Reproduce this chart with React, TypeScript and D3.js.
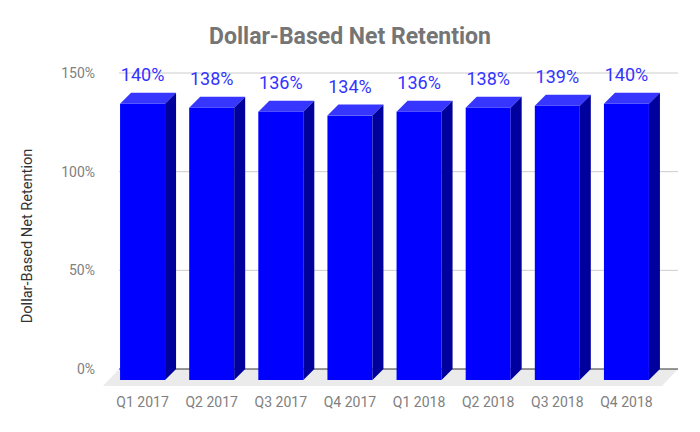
import * as d3 from 'd3'

const quarters = ['Q1 2017', 'Q2 2017', 'Q3 2017', 'Q4 2017', 'Q1 2018', 'Q2 2018', 'Q3 2018', 'Q4 2018']
const retention = [1.4, 1.38, 1.36, 1.34, 1.36, 1.38, 1.39, 1.4]
const yTicks = [0, 0.5, 1, 1.5]

const W = 700
const H = 432
const FONT = 'Roboto, "Noto Sans", sans-serif'

// back plane of the fake 3d box
const left = 119
const right = 678
const top = 73
const base = 369
const depth = 11
const floorDx = 16
const floorDy = 17

export default function App() {
  const x = d3.scaleBand<string>()
    .domain(quarters)
    .range([left, 672])
    .paddingInner(0.349)
    .paddingOuter(0.1745)

  const y = d3.scaleLinear().domain([0, 1.5]).range([base, top])
  const bw = x.bandwidth()
  const pct = d3.format('.0%')

  const pts = (p: [number, number][]) => p.map(d => d.join(',')).join(' ')

  return (
    <div style={{ position: 'fixed', left: 0, top: 0 }}>
      <svg width={W} height={H} style={{ display: 'block', background: '#fff' }}>
        <text x={350} y={44} textAnchor="middle" fontFamily={FONT} fontWeight="bold"
          fontSize={23} fill="#757575">Dollar-Based Net Retention</text>

        {/* gridlines */}
        {yTicks.filter(t => t > 0).map(t => (
          <line key={t} x1={left} x2={right} y1={y(t)} y2={y(t)} stroke="#cccccc" strokeWidth={1} />
        ))}

        {/* floor */}
        <polygon
          points={pts([[left, base], [right, base], [right - floorDx, base + floorDy], [left - floorDx, base + floorDy]])}
          fill="#ebebeb" />
        <line x1={left} x2={right} y1={base} y2={base} stroke="#333" strokeWidth={1} />

        {/* y tick labels */}
        {yTicks.map(t => (
          <text key={t} x={95} y={y(t) + 5} textAnchor="end" fontFamily={FONT} fontSize={14}
            fill="#808080">{pct(t)}</text>
        ))}

        <text transform={`translate(32,236) rotate(-90)`} textAnchor="middle" fontFamily={FONT}
          fontSize={14.6} fill="#333">Dollar-Based Net Retention</text>

        {/* bars */}
        {quarters.map((q, i) => {
          const xb = x(q) as number
          const yt = y(retention[i])
          return (
            <g key={q}>
              <rect x={xb - depth} y={yt + depth} width={bw} height={base - yt} fill="#0000ff" />
              <polygon
                points={pts([[xb - depth, yt + depth], [xb, yt], [xb + bw, yt], [xb + bw - depth, yt + depth]])}
                fill="#3636ff" />
              <polygon
                points={pts([[xb + bw - depth, yt + depth], [xb + bw, yt], [xb + bw, base], [xb + bw - depth, base + depth]])}
                fill="#00009c" />
              <text x={xb - depth + bw / 2} y={yt - 12} textAnchor="middle" fontFamily={FONT}
                fontSize={18} fill="#3333ff">{pct(retention[i])}</text>
              <text x={xb - depth + bw / 2} y={407} textAnchor="middle" fontFamily={FONT}
                fontSize={14} fill="#808080">{q}</text>
            </g>
          )
        })}
      </svg>
    </div>
  )
}
